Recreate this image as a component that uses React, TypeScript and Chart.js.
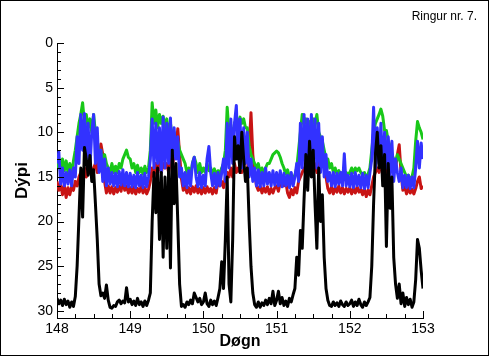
import { useEffect, useRef } from 'react';
import { Chart, registerables } from 'chart.js';

Chart.register(...registerables);

// Sampling of the records (day of year)
const START_DAY = 148;
const STEP_DAY = 0.025;

const X_TICKS = [148, 149, 150, 151, 152, 153];
const Y_TICKS = [0, 5, 10, 15, 20, 25, 30];

const CHART_TITLE = 'Ringur nr. 7.';
const X_TITLE = 'Døgn';
const Y_TITLE = 'Dýpi';

const blackDepth = [
  28.6, 29.2, 28.8, 29.4, 28.7, 29.3, 28.9, 29.6, 29.0, 29.5, 28.4, 25.0, 19.5, 14.0, 19.5, 11.7, 13.0, 14.8, 12.6, 15.5,
  14.2, 18.0, 22.0, 27.0, 28.3, 28.0, 28.6, 27.1, 28.8, 29.6, 29.7, 29.4, 29.5, 29.0, 28.8, 29.2, 28.9, 29.1, 27.4, 29.0,
  28.7, 29.3, 28.9, 29.4, 28.6, 29.3, 29.0, 29.5, 28.9, 29.4, 28.8, 28.0, 20.0, 14.5, 19.0, 14.0, 22.0, 14.5, 24.0, 15.0,
  23.0, 14.0, 25.2, 12.0, 18.0, 13.5, 20.0, 27.0, 29.5, 29.3, 29.6, 29.0, 29.3, 28.8, 29.2, 28.0, 28.5, 29.0, 28.6, 29.3,
  29.0, 28.0, 29.2, 29.5, 28.8, 29.3, 28.9, 29.4, 28.5, 27.5, 24.5, 27.5, 22.0, 15.0, 27.0, 29.0, 22.0, 10.5, 13.0, 11.5,
  14.5, 10.0, 13.0, 15.5, 14.0, 20.0, 25.0, 28.0, 29.3, 29.6, 29.0, 29.6, 29.1, 29.4, 28.8, 29.3, 28.6, 29.2, 27.8, 29.4,
  28.8, 27.8, 29.2, 28.5, 29.4, 28.9, 29.5, 28.6, 29.0, 28.2, 27.5, 24.0, 26.0, 21.0, 23.0, 17.5, 12.5, 16.5, 11.0, 15.0,
  12.0, 18.0, 23.0, 14.0, 20.0, 17.0, 24.0, 27.5, 28.8, 29.4, 29.5, 29.0, 29.4, 29.1, 29.5, 28.9, 29.3, 29.5, 29.0, 29.4,
  29.2, 28.8, 29.5, 29.0, 29.4, 28.7, 29.3, 29.6, 29.0, 29.4, 29.0, 28.5, 25.0, 18.0, 12.5, 10.0, 14.0, 11.5, 16.0, 12.5,
  22.8, 13.5, 18.5, 15.0, 24.0, 27.0, 28.6, 27.0, 29.2, 28.0, 29.5, 28.5, 29.3, 28.7, 29.6, 29.0, 26.5, 22.0, 23.0, 25.5,
  27.5,
];

const redDepth = [
  15.5, 16.5, 15.8, 17.0, 16.0, 17.3, 16.2, 17.0, 16.1, 16.5, 15.5, 16.0, 15.0, 14.5, 15.0, 14.0, 15.0, 14.5, 13.5, 15.0,
  14.0, 13.5, 14.5, 13.0, 11.3, 12.5, 15.5, 16.8, 16.0, 16.8, 16.1, 16.9, 16.2, 16.7, 16.0, 16.6, 15.4, 16.5, 16.0, 16.8,
  16.2, 16.8, 16.1, 16.9, 16.3, 16.7, 16.0, 16.8, 16.2, 16.9, 16.4, 15.5, 14.0, 15.0, 13.5, 14.5, 13.0, 14.5, 13.5, 14.0,
  13.5, 14.5, 13.0, 14.0, 12.5, 12.0, 9.6, 12.5, 15.2, 16.5, 16.0, 16.8, 16.2, 16.9, 16.1, 16.7, 16.0, 16.8, 16.3, 16.9,
  16.2, 16.8, 16.1, 16.7, 16.3, 16.9, 16.2, 16.8, 15.4, 16.0, 15.5, 16.2, 15.0, 14.5, 15.0, 14.0, 15.0, 13.5, 14.5, 14.0,
  14.5, 14.5, 14.0, 14.5, 14.5, 12.0, 7.8, 12.5, 14.5, 16.0, 16.5, 16.0, 16.8, 16.2, 16.7, 16.1, 16.9, 16.3, 16.8, 16.2,
  16.0, 16.6, 15.6, 15.4, 16.0, 15.5, 16.8, 17.3, 16.4, 17.0, 16.2, 16.8, 15.5, 15.0, 14.5, 14.0, 14.5, 14.0, 14.5, 13.5,
  14.0, 13.5, 14.5, 13.0, 13.5, 12.5, 12.3, 15.0, 16.3, 16.8, 16.1, 16.9, 16.2, 16.7, 16.0, 16.8, 16.2, 16.9, 16.3, 16.7,
  16.2, 16.9, 16.3, 16.8, 16.1, 16.7, 16.4, 17.0, 16.3, 17.2, 16.5, 17.0, 16.0, 15.0, 14.5, 14.0, 14.5, 13.5, 14.5, 14.0,
  14.5, 14.0, 14.5, 13.5, 14.0, 14.0, 12.5, 11.4, 14.5, 16.5, 16.1, 16.9, 16.2, 16.8, 16.4, 16.9, 16.3, 15.5, 15.0, 16.3,
  16.0,
];

const greenDepth = [
  14.0, 13.0, 14.5, 13.0, 14.3, 13.2, 14.5, 13.5, 14.7, 13.2, 12.0, 10.5, 9.0, 8.0, 6.7, 9.0, 8.0, 9.5, 8.5, 10.0,
  8.0, 10.0, 11.0, 12.5, 12.0, 13.5, 12.5, 13.5, 14.0, 14.5, 13.5, 14.5, 13.8, 14.5, 13.5, 14.0, 13.0, 12.5, 12.0, 12.8,
  13.0, 14.0, 13.5, 14.5, 13.7, 14.5, 14.0, 14.7, 13.8, 14.5, 14.0, 12.0, 6.7, 9.0, 7.5, 9.5, 8.0, 9.0, 8.2, 9.5,
  8.5, 10.0, 9.0, 10.5, 10.0, 11.5, 11.0, 12.0, 12.5, 13.0, 13.5, 14.5, 14.0, 14.7, 13.5, 12.8, 13.5, 14.5, 13.5, 14.5,
  14.0, 14.5, 13.5, 14.3, 14.0, 14.7, 14.1, 14.8, 14.3, 14.7, 14.0, 13.5, 12.0, 7.2, 10.0, 9.5, 10.5, 9.0, 8.5, 9.0,
  8.3, 9.0, 8.5, 9.5, 9.5, 11.5, 12.5, 13.0, 13.5, 14.0, 13.5, 14.5, 14.0, 14.5, 14.0, 13.5, 13.5, 13.0, 12.5, 12.3,
  12.1, 12.3, 12.8, 13.5, 14.0, 14.7, 14.2, 15.0, 14.8, 15.1, 14.8, 14.0, 12.0, 10.0, 8.0, 9.0, 8.5, 9.5, 8.8, 9.5,
  8.5, 9.0, 8.0, 10.0, 10.5, 11.0, 12.0, 13.0, 13.0, 14.0, 13.5, 14.5, 14.0, 14.7, 14.3, 14.8, 14.5, 15.0, 14.5, 14.8,
  14.5, 14.0, 14.5, 14.0, 14.3, 14.0, 14.5, 14.8, 14.5, 15.0, 14.7, 14.0, 12.0, 10.0, 9.0, 8.5, 8.0, 7.4, 8.2, 9.8,
  9.8, 11.0, 11.5, 12.5, 13.0, 13.5, 12.5, 13.0, 13.5, 14.0, 14.5, 15.0, 14.8, 15.2, 15.0, 14.0, 11.0, 8.8, 9.5, 10.0,
  10.8,
];

const blueDepth = [
  13.5, 12.2, 15.8, 14.0, 16.0, 14.5, 15.8, 14.2, 16.0, 14.0, 15.0, 10.5, 13.5, 8.0, 12.0, 7.9, 13.0, 9.0, 14.0, 10.0,
  8.0, 13.5, 9.5, 14.5, 12.0, 15.5, 13.0, 16.0, 14.0, 15.8, 14.5, 16.0, 14.6, 16.1, 14.4, 15.9, 14.2, 16.0, 14.5, 16.1,
  14.6, 16.1, 14.8, 16.2, 14.5, 16.0, 14.8, 16.2, 14.6, 16.1, 15.0, 13.0, 8.5, 14.0, 9.0, 13.5, 9.5, 14.5, 8.3, 14.0,
  9.0, 13.5, 8.4, 14.0, 9.5, 13.0, 10.5, 15.0, 14.0, 16.0, 14.5, 16.2, 14.3, 16.0, 13.5, 12.8, 15.0, 16.1, 14.5, 16.2,
  14.8, 16.0, 13.0, 11.6, 14.5, 16.0, 14.6, 16.2, 14.5, 16.0, 14.5, 13.0, 15.5, 9.0, 14.0, 8.5, 13.5, 9.0, 7.0, 13.0,
  8.5, 14.0, 9.5, 13.5, 10.0, 15.0, 13.0, 15.5, 14.0, 16.0, 14.2, 16.1, 14.5, 16.0, 14.0, 15.8, 14.5, 16.0, 14.3, 15.9,
  14.5, 16.0, 14.3, 16.1, 14.6, 16.0, 14.8, 16.2, 14.5, 16.0, 15.0, 13.5, 15.5, 9.0, 14.0, 8.0, 13.5, 8.5, 14.5, 8.0,
  13.5, 8.5, 14.0, 9.0, 14.5, 10.5, 15.0, 12.5, 15.5, 14.5, 16.0, 14.5, 16.1, 14.6, 15.8, 14.5, 16.0, 12.4, 16.0, 14.8,
  16.1, 14.6, 16.2, 14.5, 16.0, 14.8, 16.2, 14.6, 16.3, 14.8, 16.2, 14.5, 13.0, 7.2, 14.0, 9.5, 13.5, 9.0, 14.5, 10.0,
  14.0, 10.5, 15.0, 11.0, 15.5, 13.0, 14.5, 15.5, 14.0, 16.2, 14.8, 16.2, 14.8, 16.3, 15.0, 16.2, 14.0, 11.0, 14.0, 11.2,
  13.0,
];

const toPoints = (arr: number[]) => arr.map((y, i) => ({ x: START_DAY + i * STEP_DAY, y }));

const FONT = '"Liberation Sans", Arial, sans-serif';

const decorPlugin = {
  id: 'decor',
  afterDraw(chart: any) {
    const { ctx, chartArea, scales } = chart;
    const xs = scales.x;
    const ys = scales.y;
    ctx.save();
    ctx.strokeStyle = '#000';
    ctx.lineWidth = 1;
    ctx.beginPath();
    for (let v = Y_TICKS[0]; v <= Y_TICKS[Y_TICKS.length - 1]; v += 1) {
      const y = Math.round(ys.getPixelForValue(v)) + 0.5;
      const len = v % 5 === 0 ? 7 : 4;
      ctx.moveTo(chartArea.left, y);
      ctx.lineTo(chartArea.left + len, y);
    }
    for (let k = 0; k <= (X_TICKS.length - 1) * 4; k++) {
      const v = X_TICKS[0] + k * 0.25;
      const x = Math.round(xs.getPixelForValue(v)) + 0.5;
      const len = k % 4 === 0 ? 7 : 4;
      ctx.moveTo(x, chartArea.bottom);
      ctx.lineTo(x, chartArea.bottom - len);
    }
    ctx.stroke();
    ctx.strokeRect(0.5, 0.5, 488, 355);
    ctx.fillStyle = '#000';
    ctx.font = `12px ${FONT}`;
    ctx.textAlign = 'right';
    ctx.textBaseline = 'middle';
    ctx.fillText(CHART_TITLE, 477, 17);
    ctx.restore();
  },
};

export default function App() {
  const canvasRef = useRef<HTMLCanvasElement | null>(null);

  useEffect(() => {
    const canvas = canvasRef.current;
    if (!canvas) return;
    const line = (data: number[], color: string, order: number) => ({
      data: toPoints(data),
      borderColor: color,
      backgroundColor: color,
      borderWidth: 3,
      pointRadius: 0,
      tension: 0,
      fill: false,
      borderJoinStyle: 'round' as const,
      order,
    });
    const chart = new Chart(canvas, {
      type: 'line',
      data: {
        datasets: [
          line(blackDepth, '#000000', 0),
          line(blueDepth, '#3232ff', 1),
          line(greenDepth, '#19c819', 2),
          line(redDepth, '#c81414', 3),
        ],
      },
      options: {
        responsive: false,
        animation: false,
        devicePixelRatio: 1,
        layout: { padding: { left: 0, top: 43, right: 67, bottom: 0 } },
        plugins: { legend: { display: false }, tooltip: { enabled: false }, title: { display: false } },
        scales: {
          x: {
            type: 'linear',
            min: X_TICKS[0],
            max: X_TICKS[X_TICKS.length - 1],
            afterFit: (s: any) => { s.height = 39; },
            afterBuildTicks: (s: any) => { s.ticks = X_TICKS.map((v) => ({ value: v })); },
            grid: { display: false, drawTicks: false },
            border: { display: true, color: '#000', width: 1 },
            ticks: {
              autoSkip: false,
              maxRotation: 0,
              padding: 3,
              color: '#000',
              font: { family: FONT, size: 14 },
              callback: (v: any) => String(v),
            },
            title: {
              display: true,
              text: X_TITLE,
              color: '#000',
              font: { family: FONT, size: 16, weight: 'bold' },
              padding: { top: 0, bottom: 6 },
            },
          },
          y: {
            type: 'linear',
            reverse: true,
            min: 0,
            max: 30.8,
            afterFit: (s: any) => { s.width = 57; },
            afterBuildTicks: (s: any) => { s.ticks = Y_TICKS.map((v) => ({ value: v })); },
            grid: { display: false, drawTicks: false },
            border: { display: true, color: '#000', width: 1 },
            ticks: {
              autoSkip: false,
              padding: 4,
              color: '#000',
              font: { family: FONT, size: 14 },
              callback: (v: any) => String(v),
            },
            title: {
              display: true,
              text: Y_TITLE,
              color: '#000',
              font: { family: FONT, size: 17, weight: 'bold' },
              padding: { top: 12, bottom: 0 },
            },
          },
        },
      },
      plugins: [decorPlugin],
    });
    return () => chart.destroy();
  }, []);

  return (
    <div style={{ position: 'fixed', left: 0, top: 0, width: 490, height: 357, background: '#fff' }}>
      <canvas ref={canvasRef} width={490} height={357} style={{ display: 'block', width: 490, height: 357 }} />
    </div>
  );
}
